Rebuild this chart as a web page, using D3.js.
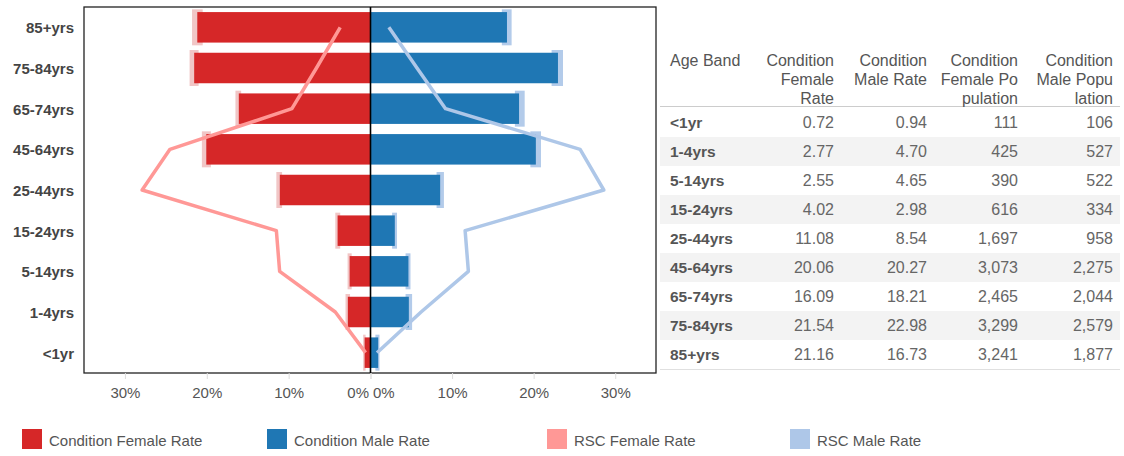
<!DOCTYPE html>
<html>
<head>
<meta charset="utf-8">
<script src="https://cdn.jsdelivr.net/npm/d3@7"></script>
<style>
  body { margin: 0; background: #fff; }
  svg { display: block; font-family: "Liberation Sans", Arial, sans-serif; }
</style>
</head>
<body>
<svg id="chart" width="1124" height="456"></svg>
<script>
// age bands, youngest first (table order)
var ageBands = ["<1yr", "1-4yrs", "5-14yrs", "15-24yrs", "25-44yrs", "45-64yrs", "65-74yrs", "75-84yrs", "85+yrs"];
var femaleRate = [0.72, 2.77, 2.55, 4.02, 11.08, 20.06, 16.09, 21.54, 21.16];
var maleRate = [0.94, 4.70, 4.65, 2.98, 8.54, 20.27, 18.21, 22.98, 16.73];
var femalePop = [111, 425, 390, 616, 1697, 3073, 2465, 3299, 3241];
var malePop = [106, 527, 522, 334, 958, 2275, 2044, 2579, 1877];
// pale bands at the bar ends
var femaleLow = [0.6, 2.5, 2.3, 3.7, 10.8, 19.5, 15.8, 21.0, 20.5];
var femaleHigh = [0.9, 3.05, 2.8, 4.3, 11.5, 20.6, 16.5, 22.1, 21.8];
var maleLow = [0.6, 4.3, 4.3, 2.65, 8.1, 19.6, 17.7, 22.2, 16.1];
var maleHigh = [1.1, 5.1, 4.9, 3.25, 9.0, 20.9, 18.9, 23.6, 17.3];
// RSC rates (lines)
var rscFemale = [0.6, 4.3, 11.1, 11.5, 27.9, 24.5, 9.6, 6.6, 3.7];
var rscMale = [0.8, 6.2, 12.0, 11.6, 28.6, 25.7, 9.2, 5.7, 2.25];
var xTicks = [0, 10, 20, 30];
var legendLabels = ["Condition Female Rate", "Condition Male Rate", "RSC Female Rate", "RSC Male Rate"];
var tableHeaders = [["Age Band"], ["Condition", "Female", "Rate"], ["Condition", "Male Rate"], ["Condition", "Female Po", "pulation"], ["Condition", "Male Popu", "lation"]];

(function() {
var colors = { female: "#d62728", male: "#1f77b4", rscF: "#ff9896", rscM: "#aec7e8", bandF: "#f1c6c6", bandM: "#b3cbea" };

var svg = d3.select("#chart");

var pLeft = 84, pMid = 370.5, pRight = 656, pTop = 7, pBottom = 373;

var xL = d3.scaleLinear().domain([35, 0]).range([pLeft, pMid]);
var xR = d3.scaleLinear().domain([0, 35]).range([pMid, pRight]);
var y = d3.scaleBand().domain(ageBands.slice().reverse()).range([pTop, pBottom]).paddingInner(0.25).paddingOuter(0.125);

var rows = ageBands.map(function(a, i) {
  return { band: a, f: femaleRate[i], m: maleRate[i], fp: femalePop[i], mp: malePop[i],
    fl: femaleLow[i], fh: femaleHigh[i], ml: maleLow[i], mh: maleHigh[i], rf: rscFemale[i], rm: rscMale[i] };
});

var plot = svg.append("g");
var cy = function(d) { return y(d.band) + y.bandwidth() / 2; };
var bandH = 36;

// pale bands behind bars
plot.selectAll(".bandF").data(rows).enter().append("rect")
  .attr("x", function(d) { return xL(d.fh); })
  .attr("width", function(d) { return xL(d.fl) - xL(d.fh); })
  .attr("y", function(d) { return cy(d) - bandH / 2; })
  .attr("height", bandH)
  .attr("fill", colors.bandF);
plot.selectAll(".bandM").data(rows).enter().append("rect")
  .attr("x", function(d) { return xR(d.ml); })
  .attr("width", function(d) { return xR(d.mh) - xR(d.ml); })
  .attr("y", function(d) { return cy(d) - bandH / 2; })
  .attr("height", bandH)
  .attr("fill", colors.bandM);

plot.selectAll(".barF").data(rows).enter().append("rect")
  .attr("x", function(d) { return xL(d.f); })
  .attr("width", function(d) { return xL(0) - xL(d.f); })
  .attr("y", function(d) { return y(d.band); })
  .attr("height", y.bandwidth())
  .attr("fill", colors.female);
plot.selectAll(".barM").data(rows).enter().append("rect")
  .attr("x", xR(0))
  .attr("width", function(d) { return xR(d.m) - xR(0); })
  .attr("y", function(d) { return y(d.band); })
  .attr("height", y.bandwidth())
  .attr("fill", colors.male);

var lineF = d3.line().x(function(d) { return xL(d.rf); }).y(cy);
var lineM = d3.line().x(function(d) { return xR(d.rm); }).y(cy);
plot.append("path").datum(rows).attr("d", lineF).attr("fill", "none")
  .attr("stroke", colors.rscF).attr("stroke-width", 3.5).attr("stroke-linejoin", "round");
plot.append("path").datum(rows).attr("d", lineM).attr("fill", "none")
  .attr("stroke", colors.rscM).attr("stroke-width", 3.5).attr("stroke-linejoin", "round");

// frame + centre line
svg.append("rect").attr("x", pLeft).attr("y", pTop).attr("width", pRight - pLeft).attr("height", pBottom - pTop)
  .attr("fill", "none").attr("stroke", "#222").attr("stroke-width", 1.3);
svg.append("line").attr("x1", pMid).attr("x2", pMid).attr("y1", pTop).attr("y2", pBottom)
  .attr("stroke", "#000").attr("stroke-width", 1.6);

// axes
var fmt = function(d) { return d + "%"; };
var axL = svg.append("g").attr("transform", "translate(0," + pBottom + ")")
  .call(d3.axisBottom(xL).tickValues(xTicks).tickFormat(fmt).tickSize(6).tickPadding(8));
var axR = svg.append("g").attr("transform", "translate(0," + pBottom + ")")
  .call(d3.axisBottom(xR).tickValues(xTicks).tickFormat(fmt).tickSize(6).tickPadding(8));
[axL, axR].forEach(function(ax) {
  ax.select(".domain").remove();
  ax.selectAll("line").attr("stroke", "#ddd");
  ax.selectAll("text").attr("fill", "#555").style("font-size", "15px");
});
axL.selectAll(".tick").filter(function(d) { return d === 0; }).select("text").attr("text-anchor", "end").attr("dx", -2);
axR.selectAll(".tick").filter(function(d) { return d === 0; }).select("text").attr("text-anchor", "start").attr("dx", 2);

var axY = svg.append("g").attr("transform", "translate(" + pLeft + ",0)")
  .call(d3.axisLeft(y).tickSize(0).tickPadding(10));
axY.select(".domain").remove();
axY.selectAll("text").attr("fill", "#444").attr("dy", "0.4em").style("font-size", "15px").style("font-weight", "bold");

// table
var colX = [670, 834, 927, 1018, 1113];
var tab = svg.append("g");
var rowY0 = 108, rowH = 29;
tab.selectAll(".shade").data(rows).enter().append("rect")
  .filter(function(d, i) { return i % 2 === 1; })
  .attr("x", 660).attr("width", 460)
  .attr("y", function(d) { return rowY0 + ageBands.indexOf(d.band) * rowH; })
  .attr("height", rowH)
  .attr("fill", "#f3f3f3");
tab.append("line").attr("x1", 660).attr("x2", 1120).attr("y1", 106.5).attr("y2", 106.5).attr("stroke", "#ccc");
tab.append("line").attr("x1", 660).attr("x2", 1120).attr("y1", 369.5).attr("y2", 369.5).attr("stroke", "#e0e0e0");

tableHeaders.forEach(function(lines, c) {
  var t = tab.append("text")
    .attr("x", colX[c]).attr("y", 66)
    .attr("text-anchor", c === 0 ? "start" : "end")
    .attr("fill", "#555").style("font-size", "16px");
  lines.forEach(function(s, k) {
    t.append("tspan").attr("x", colX[c]).attr("y", 66 + k * 19).text(s);
  });
});

var f2 = d3.format(".2f"), fc = d3.format(",");
var tr = tab.selectAll(".row").data(rows).enter().append("g")
  .attr("transform", function(d, i) { return "translate(0," + (rowY0 + i * rowH + rowH / 2) + ")"; });
tr.append("text").attr("x", colX[0]).attr("dy", "0.36em").attr("fill", "#555")
  .style("font-size", "15.5px").style("font-weight", "bold").text(function(d) { return d.band; });
var cells = [function(d) { return f2(d.f); }, function(d) { return f2(d.m); }, function(d) { return fc(d.fp); }, function(d) { return fc(d.mp); }];
cells.forEach(function(fn, c) {
  tr.append("text").attr("x", colX[c + 1]).attr("dy", "0.36em").attr("text-anchor", "end")
    .attr("fill", "#666").style("font-size", "16px").text(fn);
});

// legend
var legX = [22, 267, 547, 790];
var legColors = [colors.female, colors.male, colors.rscF, colors.rscM];
var leg = svg.selectAll(".leg").data(legendLabels).enter().append("g")
  .attr("transform", function(d, i) { return "translate(" + legX[i] + ",429)"; });
leg.append("rect").attr("width", 20).attr("height", 20).attr("fill", function(d, i) { return legColors[i]; });
leg.append("text").attr("x", 27).attr("y", 12).attr("dy", "0.36em").attr("fill", "#555")
  .style("font-size", "15px").text(function(d) { return d; });
})();
</script>
</body>
</html>
